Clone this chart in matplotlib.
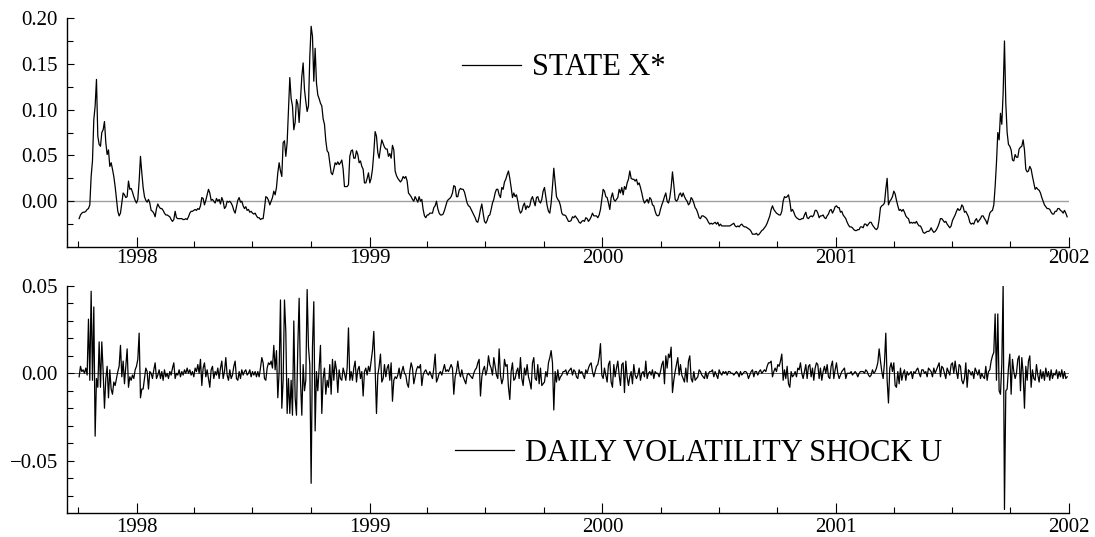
import numpy as np
import pandas as pd
import matplotlib
matplotlib.use("Agg")
import matplotlib.pyplot as plt
import matplotlib.dates as mdates
from matplotlib.ticker import FixedLocator, FuncFormatter

plt.rcParams['font.family'] = ['Liberation Serif', 'DejaVu Serif']

# filtered state X*, in units of 1e-3
state_x = np.array([
    -19, -15, -13, -12, -12, -11, -9, -8, -4, 27,
    44, 89, 104, 133, 71, 62, 60, 75, 78, 87,
    64, 51, 56, 38, 42, 35, 27, 16, 2, -11,
    -16, -13, -2, 9, 7, 4, 5, 22, 13, 14,
    10, 5, 1, -2, 2, 22, 49, 31, 15, 5,
    1, -1, 2, -2, -10, -11, -13, -17, -8, -3,
    -6, -8, -8, -10, -13, -15, -15, -16, -17, -20,
    -22, -20, -11, -18, -19, -19, -19, -19, -20, -20,
    -19, -20, -17, -13, -11, -11, -10, -9, -10, -8,
    -9, -5, 4, 3, -4, 1, 7, 13, 9, 1,
    2, 0, -2, 3, 0, 2, -3, 4, 0, -8,
    -6, 0, -1, 0, -2, -5, -10, -13, -6, 1,
    4, -1, 0, -5, -8, -6, -10, -9, -12, -11,
    -13, -14, -13, -16, -18, -18, -20, -19, -19, -8,
    5, 4, 1, -4, 0, 4, 11, 7, 15, 31,
    42, 33, 27, 64, 66, 49, 64, 100, 135, 112,
    104, 78, 86, 111, 106, 86, 111, 136, 151, 122,
    109, 98, 104, 158, 191, 180, 131, 167, 129, 116,
    112, 107, 104, 90, 84, 66, 55, 53, 42, 31,
    29, 35, 42, 40, 43, 40, 42, 45, 35, 16,
    16, 16, 18, 49, 55, 56, 47, 47, 55, 51,
    42, 44, 38, 35, 20, 20, 25, 31, 20, 25,
    35, 53, 76, 71, 53, 47, 58, 67, 63, 59,
    57, 57, 49, 52, 47, 61, 56, 33, 28, 25,
    23, 21, 23, 27, 25, 27, 22, 9,
    7, 5, 2, 0, 5, 2, -1, 5, 0, 2,
    -9, -16, -18, -15, -15, -13, -13, -13, -7, -5,
    0, -8, -13, -15, -15, -14, -10, -5, 0, 2,
    3, 5, 9, 17, 16, 5, 5, 12, 14, 13,
    13, 10, 4, -2, -5, -6, -9, -12, -15, -18,
    -22, -23, -17, -9, -3, -13, -22, -24, -21, -16,
    -15, -9, -2, 2, 9, 13, 13, 7, 4, 15,
    13, 21, 24, 29, 33, 25, 15, 4, 9, 5,
    7, 0, -9, -13, -11, -5, -2, -9, -5, -7,
    -5, 2, 5, 0, -5, 4, 5, 0, -2, 2,
    11, 15, 5, -5, -11, -13, -2, 16, 36, 20,
    5, 2, 0, -5, -13, -15, -15, -16, -19, -22,
    -22, -21, -17, -18, -16, -18, -20, -23, -24, -22,
    -21, -22, -18, -19, -22, -20, -17, -13, -16, -16,
    -16, -18, -15, -9, 2, 13, 11, 5, 4, -2,
    -9, 4, 9, 2, 0, 2, 4, 13, 9, 15,
    7, 16, 13, 20, 24, 33, 25, 24, 24, 22,
    24, 18, 20, 15, 9, 2, -2, 0, 2, -2,
    4, 2, -4, -5, -11, -15, -16, -15, -9, -4,
    0, 5, 9, 0, -2, 4, 15, 32, 18, 2,
    0, 2, 7, 9, 5, 9, 5, 2, 0, -4,
    -2, 4, 2, -2, -7, -9, -13, -18, -19, -16,
    -16, -17, -18, -20, -23, -25, -24, -25, -24, -23,
    -25, -23, -27, -25, -27, -27, -27, -27, -27, -27,
    -27, -26, -25, -24, -27, -28, -27,
    -28, -26, -25, -27, -28, -28, -29, -30, -31, -33,
    -36, -36, -36, -35, -37, -36, -34, -32, -31, -29,
    -27, -24, -20, -16, -9, -5, -9, -11, -13, -14,
    -15, -15, -11, 0, 5, 4, 5, 7, 0, -11,
    -9, -12, -16, -18, -19, -20, -20, -19, -19, -15,
    -12, -18, -19, -17, -16, -17, -15, -10, -10, -13,
    -18, -16, -16, -15, -18, -19, -16, -14, -10, -9,
    -13, -10, -6, -5, -7, -7, -12, -11, -15, -17,
    -19, -23, -26, -28, -28, -29, -31, -32, -32, -31,
    -31, -28, -28, -29, -25, -25, -27, -25, -23, -23,
    -26, -28, -30, -31, -29, -20, -7, -5, -4, -2,
    13, 25, -4, 0, 2, 5, 11, 8, 1, -5,
    -10, -9, -11, -9, -12, -16, -18, -19, -24, -23,
    -24, -23, -24, -22, -25, -27, -27, -30, -34, -35,
    -34, -33, -33, -32, -29, -32, -34, -33, -31, -28,
    -24, -19, -19, -21, -23, -22, -25, -27, -29, -27,
    -21, -18, -15, -11, -8, -10, -9, -4, -6, -12,
    -11, -14, -17, -23, -25, -24, -25, -21, -19, -23,
    -21, -19, -16, -16, -19, -21, -25, -19, -13, -11,
    -10, -4, 16, 42, 75, 67, 96, 84, 118, 175,
    107, 75, 62, 60, 56, 45, 44, 51, 48, 48,
    57, 59, 60, 67, 56, 35, 32, 33, 38, 35,
    27, 20, 13, 15, 13, 12, 9, 4, 0, -4,
    -6, -8, -8, -9, -12, -14, -14, -11, -11, -8,
    -8, -10, -11, -13, -10, -13, -17,
]) / 1000.0

# daily volatility shock U, in units of 1e-3
shock_u = np.array([
    -2, 4, 1, 2, 0, 3, -1, 31, -4, 47,
    -4, 38, -36, -3, -8, 18, -8, 18, 1, -20,
    -3, 4, -14, 2, -9, -12, -5, -7, -3, 1,
    4, 16, -2, 7, -6, 4, 14, -8, -2, -4,
    -1, -3, 2, 4, 8, 23, -14, -9, -9, -3,
    3, 1, -9, 1, 0, -3, 2, 6, -3, -1,
    2, -3, 1, -4, 2, -2, 0, -3, 1, -1,
    3, 6, -3, 0, -1, 2, -2, 1, -1, 2,
    0, 3, 0, 2, -1, 1, -2, 3, 1, 5,
    0, 8, -7, 3, 6, -2, 2, -3, -8, 2,
    4, -3, 1, -1, 3, -3, 3, 7, -3, 1,
    9, -1, -4, 2, -3, -1, 4, 7, -3, -4,
    1, -3, 2, -1, 1, 2, -1, 0, 2, -2,
    1, -1, 1, -2, 1, -2, 3, 9, 6, -3,
    -4, 3, 6, 5, 7, 3, 16, 2, 13, -14,
    1, 42, -20, -4, 42, 24, -23, -3, -23, -4,
    -24, 30, -14, -24, 15, 43, -4, -24, 5, -10,
    -4, 48, 15, 5, -63, 15, 41, -33, 1, -10,
    3, 16, -23, -3, 3, -12, -4, -8, 5, -12,
    8, -4, 7, 2, -11, 2, -3, -4, 3, 0,
    -4, 3, 26, -4, 1, -4, 3, 7, -5, 2,
    4, -3, 1, -13, 1, 3, -1, 4, 1, 7,
    13, 24, 3, -23, -1, 4, 11, -5, -3, 5,
    -2, 3, 5, -4, 6, -16, -4, -2, -3, -1,
    3, -3, 1, 4, 0, -1, -6, -8,
    1, 6, 3, -6, -2, 2, 4, 3, 5, -7,
    -1, 1, 2, 0, -1, 1, -1, -3, 3, 11,
    -5, -3, 0, 1, -1, 2, 5, 1, 2, 1,
    3, 5, 3, -12, -2, 1, 7, 1, -2, 2,
    -2, -4, -6, -1, 0, -1, -2, -3, 0, 2,
    3, 6, 8, -13, -2, 2, 4, -1, 2, 10,
    5, 3, -1, 9, 4, -1, -3, 14, -1, -6,
    -3, 8, 4, 5, -8, -15, 1, 6, -4, -3,
    1, 3, -3, 9, -3, -7, 3, -1, 5, -2,
    -5, -9, 6, 9, -3, -4, 5, -6, 3, -7,
    -6, -5, 1, -2, 6, 9, 13, 6, -21, 1,
    -5, 2, -4, -2, -1, 1, 1, 2, -1, 1,
    2, 3, -1, 2, 1, -2, -3, 2, 0, 1,
    -1, -3, 2, 0, 3, 5, 6, 1, -2, 1,
    4, 5, 9, 17, -1, -3, 3, -1, -5, 5,
    7, -5, -8, 5, -2, 3, 7, -1, -7, 5,
    6, -11, 7, -2, -7, -2, 1, -6, 5, -1,
    -3, -1, 3, -4, 0, 1, -2, 7, -3, 0,
    1, -1, 2, -3, 1, 0, 0, -2, 1, 5,
    7, -6, 10, 3, 11, 9, 15, -11, -4, 1,
    5, 9, -1, 5, -1, -3, -5, 3, -5, 7,
    10, -3, -5, 1, -4, -3, -2, 2, 1, -1,
    -2, -3, 1, -3, 0, 1, 1, 2, -2, 1,
    -1, -3, 2, 0, -1, 1, 0, 1, -1, 1,
    1, 0, 0, -1, 0, 1, 0,
    -2, 1, -1, 0, 1, 1, 0, -3, -1, 1,
    2, -2, 1, 1, -1, 1, 2, 0, 1, 2,
    1, 4, 6, 6, 7, -2, 1, 3, 1, 5,
    4, 7, 11, -4, 2, -3, 4, -6, -8, 1,
    -2, -1, 1, -2, 3, 2, 6, 0, -3, 1,
    5, -3, 4, 5, -2, 3, -4, 3, 6, 5,
    -3, 3, -4, 1, 4, 0, 5, -2, -3, 4,
    7, -3, 2, 6, 0, -3, -1, 1, 2, 3,
    -3, 0, 0, 0, 1, -1, 0, 1, 0, -2,
    0, 1, 1, 1, 0, 2, 1, -1, -2, -1,
    2, 0, 1, 3, 6, 14, 7, 1, -3, 6,
    23, -4, -17, 3, 6, 1, 6, -7, -8, 1,
    -6, 3, -4, 0, 2, -4, 1, -1, 0, 1,
    -3, 1, 0, 2, 3, 0, -2, 2, 2, 0,
    1, -2, 3, 2, 1, -2, 3, 0, 2, 4,
    6, -2, 4, 3, 0, -3, 3, 1, -1, 5,
    6, 0, 7, 1, -3, 5, 4, -4, -6, -3,
    6, -8, 2, 1, -1, 1, -3, 3, 1, -1,
    2, -3, 0, -2, -3, 4, -4, 1, 2, 7,
    10, 12, 34, -4, 34, -10, -12, 5, 51, -78,
    -10, -9, 3, 11, -12, 8, 1, -3, 0, 8,
    10, -10, 9, 0, -20, 4, -4, 7, 10, -8,
    2, -3, -4, 5, -1, -5, 2, -3, 1, -4,
    3, -2, 1, -4, 2, -3, 0, -1, 2, -3,
    1, -2, 2, -3, 1, -3, -2,
]) / 1000.0

first_day, last_day = "1997-10-03", "2001-12-29"
state_dates = pd.date_range(first_day, last_day, periods=len(state_x))
shock_dates = pd.date_range(first_day, last_day, periods=len(shock_u))

state_yticks = [0.0, 0.05, 0.10, 0.15, 0.20]
state_yminor = [-0.025, 0.025, 0.075, 0.125, 0.175]
shock_yticks = [-0.05, 0.0, 0.05]
shock_yminor = [-0.07, -0.06, -0.04, -0.03, -0.02, -0.01,
                0.01, 0.02, 0.03, 0.04]

x_start = pd.Timestamp("1997-09-14")
x_end = pd.Timestamp("2002-01-01")


def fmt_val(v, pos):
    return f"{v:.2f}".replace("-", "\u2212")


def style_axes(ax, ypad, xpad):
    for side in ["top", "right"]:
        ax.spines[side].set_visible(False)
    for side in ["left", "bottom"]:
        ax.spines[side].set_linewidth(1.0)
    ax.set_xlim(x_start, x_end)
    ax.xaxis.set_major_locator(mdates.YearLocator())
    ax.xaxis.set_major_formatter(mdates.DateFormatter("%Y"))
    ax.xaxis.set_minor_locator(mdates.MonthLocator(bymonth=[1, 4, 7, 10]))
    ax.yaxis.set_major_formatter(FuncFormatter(fmt_val))
    ax.tick_params(which="both", direction="in", top=False, right=False,
                   width=0.8, labelsize=15)
    ax.tick_params(axis="x", which="major", length=7, pad=xpad)
    ax.tick_params(axis="x", which="minor", length=4)
    ax.tick_params(axis="y", which="major", length=5, pad=ypad)
    ax.tick_params(axis="y", which="minor", length=4)


fig = plt.figure(figsize=(10.95, 5.37), dpi=100)

# upper panel: state X*
ax1 = fig.add_axes([0.0612, 0.5400, 0.9151, 0.4264])
ax1.axhline(0.0, color="#a0a0a0", lw=1.0, zorder=1)
line1, = ax1.plot(state_dates, state_x, color="black", lw=0.9,
                  label="STATE X*", zorder=2)
ax1.set_ylim(-0.05, 0.20)
ax1.yaxis.set_major_locator(FixedLocator(state_yticks))
ax1.yaxis.set_minor_locator(FixedLocator(state_yminor))
style_axes(ax1, ypad=6.5, xpad=1.5)
ax1.legend(handles=[line1], loc="center left", bbox_to_anchor=(0.394, 0.782),
           frameon=False, fontsize=22, handlelength=1.95, handletextpad=0.36,
           borderpad=0, borderaxespad=0)

# lower panel: daily volatility shock U
ax2 = fig.add_axes([0.0612, 0.0447, 0.9151, 0.4227])
ax2.axhline(0.0, color="#606060", lw=0.7, zorder=1)
line2, = ax2.plot(shock_dates, shock_u, color="black", lw=0.9,
                  label="DAILY VOLATILITY SHOCK U", zorder=2)
ax2.set_ylim(-0.08, 0.05)
ax2.yaxis.set_major_locator(FixedLocator(shock_yticks))
ax2.yaxis.set_minor_locator(FixedLocator(shock_yminor))
style_axes(ax2, ypad=6.5, xpad=3.5)
ax2.legend(handles=[line2], loc="center left", bbox_to_anchor=(0.387, 0.264),
           frameon=False, fontsize=22, handlelength=1.95, handletextpad=0.36,
           borderpad=0, borderaxespad=0)

fig.savefig("out.png", dpi=100)
